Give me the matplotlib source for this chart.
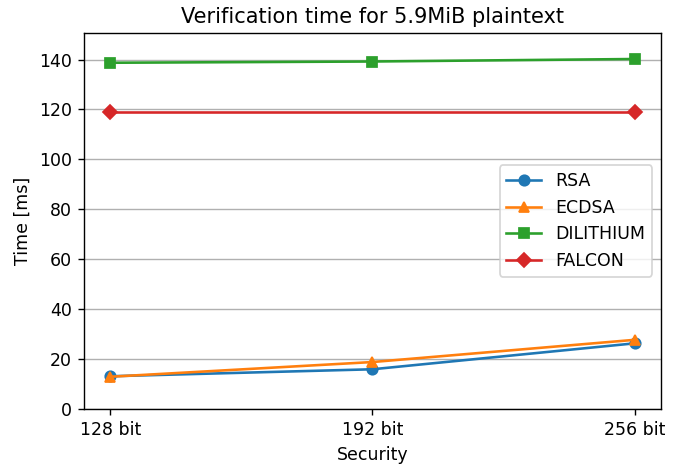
import matplotlib
matplotlib.use('Agg')
import matplotlib.pyplot as plt

security = [128, 192, 256]
tick_labels = ['128 bit', '192 bit', '256 bit']

rsa = [13.0, 15.8, 26.2]
ecdsa = [12.8, 18.7, 27.6]
dilithium = [138.7, 139.2, 140.2]
falcon_security = [128, 256]
falcon = [118.8, 118.8]

fig = plt.figure(figsize=(5.424, 3.728), dpi=125)
ax = fig.add_axes([0.124, 0.123, 0.8505, 0.8055])

ax.plot(security, rsa, marker='o', label='RSA')
ax.plot(security, ecdsa, marker='^', label='ECDSA')
ax.plot(security, dilithium, marker='s', label='DILITHIUM')
ax.plot(falcon_security, falcon, marker='D', label='FALCON')

ax.set_xticks(security)
ax.set_xticklabels(tick_labels)
ax.set_ylim(0, 150.5)
ax.yaxis.grid(True)
ax.set_xlabel('Security')
ax.set_ylabel('Time [ms]')
ax.set_title('Verification time for 5.9MiB plaintext')
ax.legend(loc='center right')

fig.savefig('out.png', dpi=125)
